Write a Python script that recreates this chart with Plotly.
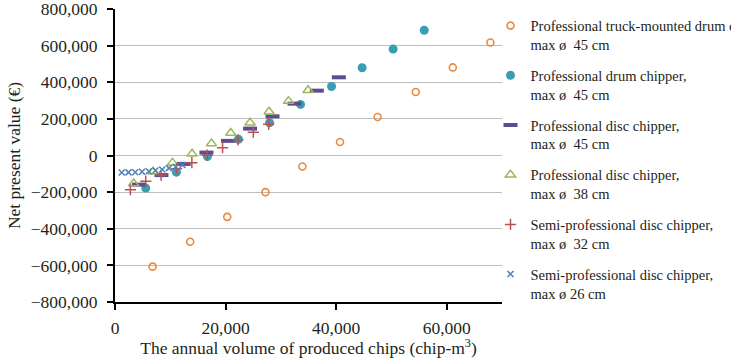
import plotly.graph_objects as go

# Data
truck_x = [6800, 13600, 20300, 27200, 33900, 40700, 47500, 54400, 61100, 67900]
truck_y = [-607000, -471000, -335000, -200000, -60000, 74000, 210000, 347000, 481000, 617000]

drum_x = [5560, 11110, 16720, 22330, 27950, 33560, 39170, 44700, 50310, 55930]
drum_y = [-178000, -91000, -6000, 89000, 179000, 279000, 377000, 479000, 581000, 684000]

disc45_x = [4350, 8400, 12430, 16540, 20450, 24430, 28490, 32470, 36510, 40490]
disc45_y = [-159000, -107000, -46000, 16000, 80000, 147000, 214000, 283000, 354000, 427000]

disc38_x = [3380, 6880, 10390, 13940, 17450, 20940, 24430, 27870, 31380, 34930]
disc38_y = [-153000, -89000, -39000, 9000, 65000, 123000, 179000, 239000, 297000, 356000]

semi32_x = [2790, 5560, 8340, 11120, 13900, 16680, 19460, 22240, 25020, 27800]
semi32_y = [-187000, -140000, -107000, -72000, -39000, 2000, 43000, 85000, 127000, 170000]

semi26_x = [1220, 2440, 3660, 4880, 6100, 7320, 8540, 9760, 10980, 12200]
semi26_y = [-93000, -92000, -91000, -89000, -86000, -82000, -76000, -69000, -61000, -52000]

names = [
    "Professional truck-mounted drum chipper,<br>max ø  45 cm",
    "Professional drum chipper,<br>max ø  45 cm",
    "Professional disc chipper,<br>max ø  45 cm",
    "Professional disc chipper,<br>max ø  38 cm",
    "Semi-professional disc chipper,<br>max ø  32 cm",
    "Semi-professional disc chipper,<br>max ø 26 cm",
]

FONT = "Liberation Serif"

fig = go.Figure()

fig.add_trace(go.Scatter(x=truck_x, y=truck_y, mode="markers", name=names[0], legendgroup="a",
                         marker=dict(symbol="circle-open", size=7, color="#E8893F",
                                     line=dict(width=1.6, color="#E8893F"))))
fig.add_trace(go.Scatter(x=drum_x, y=drum_y, mode="markers", name=names[1], legendgroup="b",
                         marker=dict(symbol="circle", size=9, color="#3B9DB3")))
fig.add_trace(go.Scatter(x=disc45_x, y=disc45_y, mode="markers", name=names[2], legendgroup="c",
                         marker=dict(symbol="line-ew", size=10, color="#5E4C8E",
                                     line=dict(width=4, color="#5E4C8E"))))
fig.add_trace(go.Scatter(x=disc38_x, y=disc38_y, mode="markers", name=names[3], legendgroup="d",
                         marker=dict(symbol="triangle-up-open", size=9, color="#9BB85A",
                                     line=dict(width=1.5, color="#9BB85A"))))
fig.add_trace(go.Scatter(x=semi32_x, y=semi32_y, mode="markers", name=names[4], legendgroup="e",
                         marker=dict(symbol="cross-thin", size=8, color="#C0504D",
                                     line=dict(width=1.5, color="#C0504D"))))
fig.add_trace(go.Scatter(x=semi26_x, y=semi26_y, mode="markers", name=names[5], legendgroup="f",
                         marker=dict(symbol="x-thin", size=6, color="#4F81BD",
                                     line=dict(width=1.5, color="#4F81BD"))))

fig.update_layout(
    width=731, height=358,
    margin=dict(l=115, r=229, t=9, b=56, autoexpand=False),
    paper_bgcolor="white", plot_bgcolor="white",
    font=dict(family=FONT, size=17.5, color="#231F20"),
    showlegend=True,
    legend=dict(
        xref="container", yref="container",
        x=0.671, y=0.973, xanchor="left", yanchor="top",
        font=dict(family=FONT, size=14.5, color="#231F20"),
        bgcolor="rgba(0,0,0,0)",
        tracegroupgap=9,
        valign="top",
        itemwidth=30,
        maxheight=1.0,
    ),
    xaxis=dict(
        range=[0, 70000], tickvals=[0, 20000, 40000, 60000], tickformat=",",
        showgrid=False, zeroline=False,
        showline=True, linecolor="black", linewidth=2,
        ticks="outside", ticklen=6, tickwidth=1.5, tickcolor="black",
        ticklabelstandoff=3,
        ticklabeloverflow="allow",
        title=dict(text="The annual volume of produced chips (chip-m<sup>3</sup>)",
                   font=dict(size=17.5), standoff=0),
        fixedrange=True,
    ),
    yaxis=dict(
        range=[-800000, 800000], dtick=200000, tickformat=",",
        showgrid=True, gridcolor="#BDBDBD", gridwidth=1,
        zeroline=False,
        showline=True, linecolor="black", linewidth=2,
        ticks="outside", ticklen=6, tickwidth=1.5, tickcolor="black",
        ticklabelstandoff=6,
        ticklabeloverflow="allow",
        title=dict(text="Net present value (€)", font=dict(size=17.5), standoff=6),
        fixedrange=True,
    ),
)

fig.write_html("out.html")
